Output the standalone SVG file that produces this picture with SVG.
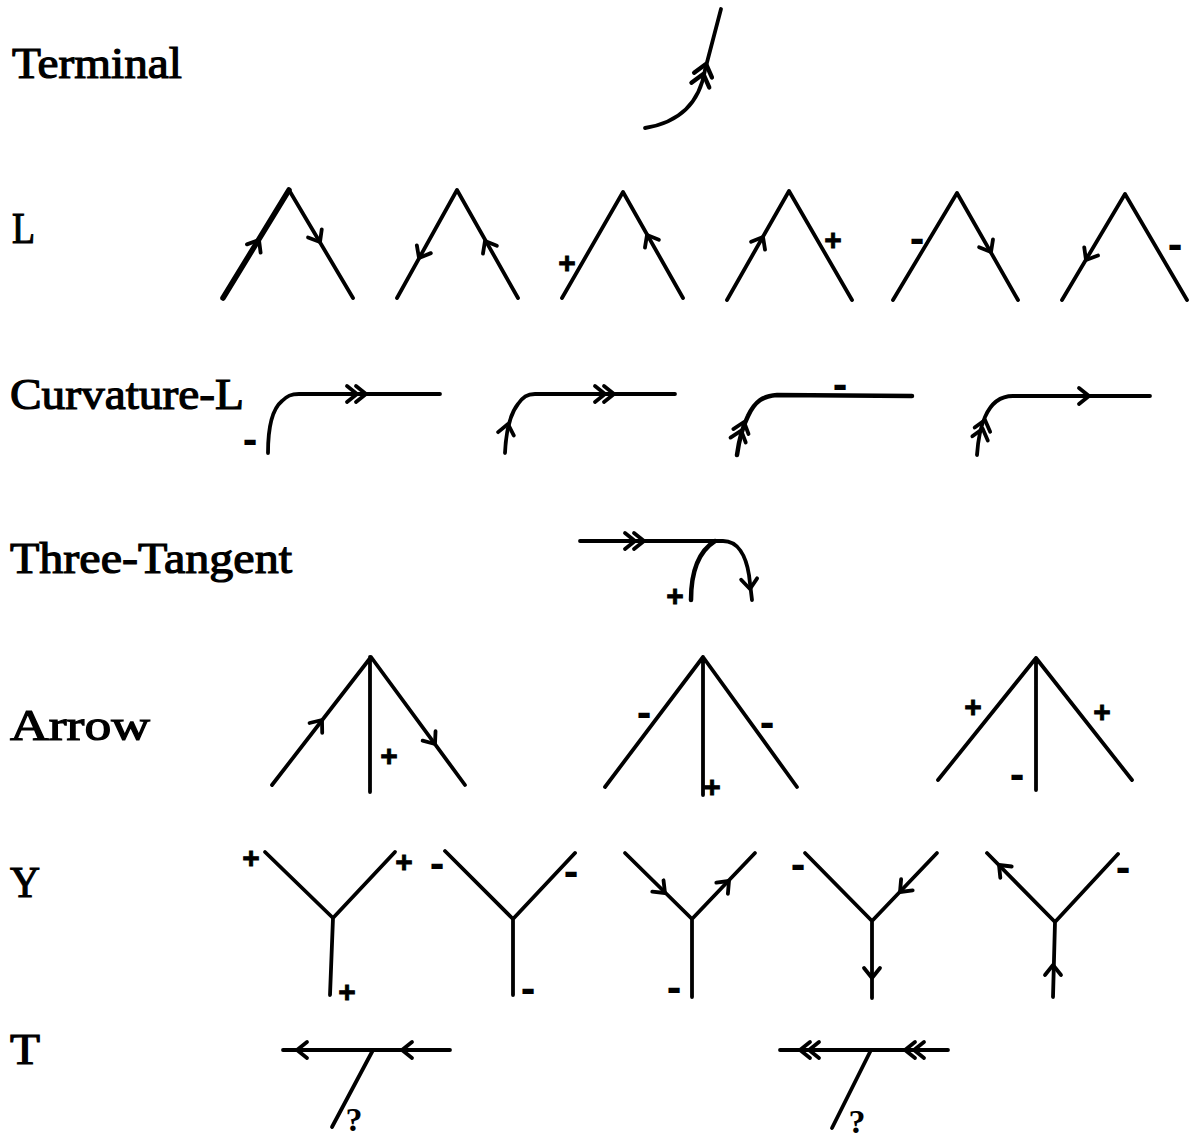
<svg xmlns="http://www.w3.org/2000/svg" xmlns:xlink="http://www.w3.org/1999/xlink" width="1197" height="1144" viewBox="0 0 1197 1144">
<style>
.lbl{font-family:"Liberation Serif","Times New Roman",serif;font-size:44px;fill:#000;stroke:#000;stroke-width:1.2}
.ln{fill:none;stroke:#000;stroke-width:3.8;stroke-linecap:round;stroke-linejoin:round}
.p{font-family:"Liberation Sans",Arial,sans-serif;font-weight:bold;font-size:30px;text-anchor:middle;fill:#000;stroke:#000;stroke-width:0.8}
.m{font-family:"Liberation Sans",Arial,sans-serif;font-weight:bold;font-size:44px;text-anchor:middle;fill:#000}
.q{font-family:"Liberation Serif","Times New Roman",serif;font-weight:bold;font-size:34px;text-anchor:middle;fill:#000}
</style>
<defs>
<path id="ch" d="M-10,-8 L0,0 L-10,8" fill="none" stroke="#000" stroke-width="3.8" stroke-linecap="round" stroke-linejoin="round"/>
<path id="ch2" d="M-10,-8 L0,0 L-10,8 M-19,-8 L-9,0 L-19,8" fill="none" stroke="#000" stroke-width="3.8" stroke-linecap="round" stroke-linejoin="round"/>
</defs>
<rect width="1197" height="1144" fill="#fff"/>

<g id="labels">
<text class="lbl" x="12" y="78" textLength="170" lengthAdjust="spacingAndGlyphs">Terminal</text>
<text class="lbl" x="12" y="243" textLength="23" lengthAdjust="spacingAndGlyphs">L</text>
<text class="lbl" x="10" y="409" textLength="234" lengthAdjust="spacingAndGlyphs">Curvature-L</text>
<text class="lbl" x="10" y="573" textLength="282" lengthAdjust="spacingAndGlyphs">Three-Tangent</text>
<text class="lbl" x="10" y="740" textLength="140" lengthAdjust="spacingAndGlyphs">Arrow</text>
<text class="lbl" x="10" y="897" textLength="30" lengthAdjust="spacingAndGlyphs">Y</text>
<text class="lbl" x="10" y="1064" textLength="30" lengthAdjust="spacingAndGlyphs">T</text>
</g>

<g id="terminal">
<path class="ln" d="M721,9 L705,70 C700,100 682,122 645,128"/>
<use xlink:href="#ch2" transform="translate(706,64) rotate(-75) scale(1.15)"/>
</g>

<g id="L1">
<path class="ln" d="M289,190 L353,298"/>
<path class="ln" style="stroke-width:5.5" d="M223,298 L289,190"/>
<use xlink:href="#ch" transform="translate(259,240) rotate(-58.6)"/>
<use xlink:href="#ch" transform="translate(320,242) rotate(59.3)"/>
</g>
<g id="L2">
<path class="ln" d="M397,298 L457,190 L518,298"/>
<use xlink:href="#ch" transform="translate(419,258) rotate(119)"/>
<use xlink:href="#ch" transform="translate(485,241) rotate(-119.5)"/>
</g>
<g id="L3">
<path class="ln" d="M562,298 L623,192 L683,298"/>
<use xlink:href="#ch" transform="translate(647,235) rotate(-119.5)"/>
<text class="p" x="567" y="273">+</text>
</g>
<g id="L4">
<path class="ln" d="M727,300 L789,191 L852,300"/>
<use xlink:href="#ch" transform="translate(763,237) rotate(-60.4)"/>
<text class="p" x="833" y="250">+</text>
</g>
<g id="L5">
<path class="ln" d="M893,300 L957,193 L1018,300"/>
<use xlink:href="#ch" transform="translate(991,252) rotate(60.3)"/>
<text class="m" x="917" y="253">-</text>
</g>
<g id="L6">
<path class="ln" d="M1062,300 L1125,194 L1187,300"/>
<use xlink:href="#ch" transform="translate(1086,260) rotate(120.7)"/>
<text class="m" x="1175" y="259">-</text>
</g>

<g id="CL1">
<path class="ln" d="M268,453 C268,430 271,410 282,401 C287,396 291,394 299,394 L440,394"/>
<use xlink:href="#ch2" transform="translate(366,394)"/>
<text class="m" x="250" y="454">-</text>
</g>
<g id="CL2">
<path class="ln" d="M505,453 C506,432 510,414 518,404 C523,397 527,394 535,394 L675,394"/>
<use xlink:href="#ch2" transform="translate(614,394)"/>
<use xlink:href="#ch" transform="translate(508,424) rotate(-78)"/>
</g>
<g id="CL3">
<path class="ln" style="stroke-width:4.5" d="M737,455 C739,440 742,428 748,416 C755,401 763,396 777,395 L912,396"/>
<use xlink:href="#ch2" transform="translate(744,422) rotate(-72)"/>
<text class="m" x="840" y="399">-</text>
</g>
<g id="CL4">
<path class="ln" d="M977,455 C978,440 980,428 985,417 C991,403 1000,396 1013,396 L1150,396"/>
<use xlink:href="#ch" transform="translate(1089,396)"/>
<use xlink:href="#ch2" transform="translate(985,420) rotate(-75)"/>
</g>

<g id="three-tangent">
<path class="ln" d="M580,541 L723,541 C738,541 746,556 749,575 L752,600"/>
<path class="ln" style="stroke-width:4.5" d="M691,600 C691,575 696,553 715,541"/>
<use xlink:href="#ch2" transform="translate(644,541)"/>
<use xlink:href="#ch" transform="translate(750,589) rotate(85)"/>
<text class="p" x="675" y="606">+</text>
</g>

<g id="arrow1">
<path class="ln" d="M272,785 L371,657 L465,785 M370,657 L370,792"/>
<use xlink:href="#ch" transform="translate(322,720) rotate(-52.3)"/>
<use xlink:href="#ch" transform="translate(435,744) rotate(53.7)"/>
<text class="p" x="389" y="766">+</text>
</g>
<g id="arrow2">
<path class="ln" d="M605,787 L703,657 L797,787 M703,657 L703,795"/>
<text class="m" x="644" y="727">-</text>
<text class="m" x="767" y="737">-</text>
<text class="p" x="712" y="797">+</text>
</g>
<g id="arrow3">
<path class="ln" d="M938,780 L1036,658 L1132,780 M1036,658 L1036,790"/>
<text class="p" x="973" y="717">+</text>
<text class="p" x="1102" y="722">+</text>
<text class="m" x="1017" y="789">-</text>
</g>

<g id="Y1">
<path class="ln" d="M265,852 L333,918 L395,852 M333,918 L330,995"/>
<text class="p" x="251" y="868">+</text>
<text class="p" x="404" y="872">+</text>
<text class="p" x="347" y="1002">+</text>
</g>
<g id="Y2">
<path class="ln" d="M445,851 L513,919 L575,853 M513,919 L513,995"/>
<text class="m" x="437" y="878">-</text>
<text class="m" x="571" y="886">-</text>
<text class="m" x="528" y="1003">-</text>
</g>
<g id="Y3">
<path class="ln" d="M625,853 L692,919 L755,853 M692,919 L692,997"/>
<use xlink:href="#ch" transform="translate(665,893) rotate(44.6)"/>
<use xlink:href="#ch" transform="translate(729,881) rotate(-46.3)"/>
<text class="m" x="674" y="1002">-</text>
</g>
<g id="Y4">
<path class="ln" d="M805,853 L872,921 L937,853 M872,921 L872,998"/>
<use xlink:href="#ch" transform="translate(900,892) rotate(133.7)"/>
<use xlink:href="#ch" transform="translate(872,978) rotate(90)"/>
<text class="m" x="798" y="879">-</text>
</g>
<g id="Y5">
<path class="ln" d="M987,853 L1055,922 L1118,854 M1055,922 L1053,997"/>
<use xlink:href="#ch" transform="translate(999,865) rotate(-134.6)"/>
<use xlink:href="#ch" transform="translate(1053,965) rotate(-90)"/>
<text class="m" x="1123" y="882">-</text>
</g>

<g id="T1">
<path class="ln" d="M283,1050 L450,1050 M373,1050 L332,1127"/>
<use xlink:href="#ch" transform="translate(297,1050) rotate(180)"/>
<use xlink:href="#ch" transform="translate(402,1050) rotate(180)"/>
<text class="q" x="354" y="1131">?</text>
</g>
<g id="T2">
<path class="ln" d="M780,1050 L948,1050 M871,1050 L832,1128"/>
<use xlink:href="#ch2" transform="translate(800,1050) rotate(180)"/>
<use xlink:href="#ch2" transform="translate(905,1050) rotate(180)"/>
<text class="q" x="857" y="1133">?</text>
</g>

<g id="connectors"></g>
</svg>
